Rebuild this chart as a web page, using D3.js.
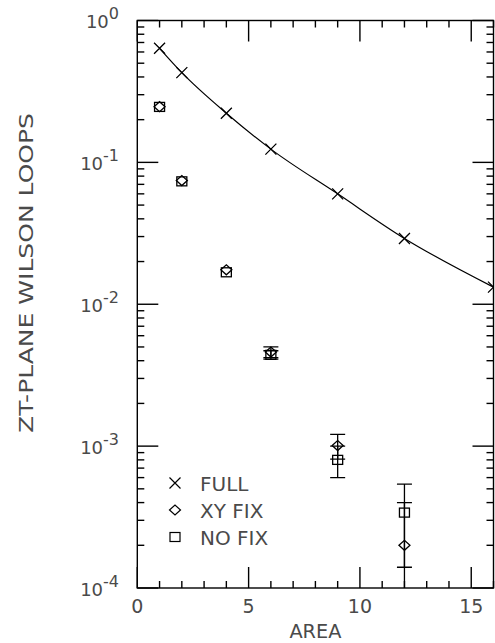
<!DOCTYPE html>
<html>
<head>
<meta charset="utf-8">
<script src="https://cdn.jsdelivr.net/npm/d3@7"></script>
<style>
  body { margin: 0; background: #fff; }
  svg { display: block; }
  text { font-family: "DejaVu Sans", sans-serif; fill: #4a4a4a; }
</style>
</head>
<body>
<div id="chart"></div>
<script>
// data
var fullArea = [1, 2, 4, 6, 9, 12, 16];
var fullVals = [0.637, 0.429, 0.222, 0.124, 0.060, 0.0291, 0.0132];

var fixArea = [1, 2, 4, 6, 9, 12];
var xyVals = [0.247, 0.0745, 0.0175, 0.0046, 0.00101, 0.0002];
var xyErr = [0, 0, 0, 0.0004, 0.0002, 0.0002];
var noVals = [0.246, 0.0735, 0.0168, 0.0044, 0.0008, 0.00034];
var noErr = [0, 0, 0, 0.0003, 0.0002, 0.0002];

var xTickLabels = [0, 5, 10, 15];
var yExponents = [0, -1, -2, -3, -4];
var legendNames = ['FULL', 'XY FIX', 'NO FIX'];

var W = 495, H = 643;
var pLeft = 137.3, pRight = 493.5, pTop = 20.5, pBottom = 588;

var svg = d3.select('#chart').append('svg').attr('width', W).attr('height', H);

var x = d3.scaleLinear().domain([0, 16]).range([pLeft, pRight]);
var y = d3.scaleLog().domain([1e-4, 1]).range([pBottom, pTop]);

svg.append('clipPath').attr('id', 'plot')
  .append('rect').attr('x', pLeft).attr('y', pTop)
  .attr('width', pRight - pLeft).attr('height', pBottom - pTop);

// ticks, pointing inward on all four sides
var ink = svg.append('g').attr('stroke', '#000').attr('stroke-width', 1.4);
d3.range(0, 17).forEach(function(v) {
  var len = v % 5 === 0 ? 21 : 7;
  ink.append('line').attr('x1', x(v)).attr('x2', x(v)).attr('y1', pBottom).attr('y2', pBottom - len);
  ink.append('line').attr('x1', x(v)).attr('x2', x(v)).attr('y1', pTop).attr('y2', pTop + len);
});
yExponents.forEach(function(e) {
  var d, v;
  ink.append('line').attr('x1', pLeft).attr('x2', pLeft + 21).attr('y1', y(Math.pow(10, e))).attr('y2', y(Math.pow(10, e)));
  ink.append('line').attr('x1', pRight).attr('x2', pRight - 21).attr('y1', y(Math.pow(10, e))).attr('y2', y(Math.pow(10, e)));
  if (e === 0) return;
  for (d = 2; d <= 9; d++) {
    v = d * Math.pow(10, e);
    ink.append('line').attr('x1', pLeft).attr('x2', pLeft + 7).attr('y1', y(v)).attr('y2', y(v));
    ink.append('line').attr('x1', pRight).attr('x2', pRight - 7).attr('y1', y(v)).attr('y2', y(v));
  }
});
ink.append('rect').attr('x', pLeft).attr('y', pTop)
  .attr('width', pRight - pLeft).attr('height', pBottom - pTop).attr('fill', 'none');

// tick labels
svg.selectAll('.xl').data(xTickLabels).enter().append('text')
  .attr('x', function(d) { return x(d); }).attr('y', 613)
  .attr('text-anchor', 'middle').style('font-size', '19px')
  .text(function(d) { return d; });

yExponents.forEach(function(e) {
  var t = svg.append('text').attr('x', 119).attr('y', y(Math.pow(10, e)) + 7.5)
    .attr('text-anchor', 'end').style('font-size', '18px');
  t.append('tspan').text('10');
  t.append('tspan').attr('dy', -9).style('font-size', '16px').text(e);
});

// axis titles
svg.append('text').attr('x', (pLeft + pRight) / 2).attr('y', 638)
  .attr('text-anchor', 'middle').attr('textLength', 52).attr('lengthAdjust', 'spacingAndGlyphs')
  .style('font-size', '19px').text('AREA');
svg.append('text').attr('transform', 'translate(33,273) rotate(-90)')
  .attr('text-anchor', 'middle').attr('textLength', 320).attr('lengthAdjust', 'spacingAndGlyphs')
  .style('font-size', '20px').text('ZT-PLANE WILSON LOOPS');

// symbols
function cross(g, cx, cy) {
  g.append('path').attr('d', 'M' + (cx - 5.5) + ',' + (cy - 5.5) + 'L' + (cx + 5.5) + ',' + (cy + 5.5) +
    'M' + (cx - 5.5) + ',' + (cy + 5.5) + 'L' + (cx + 5.5) + ',' + (cy - 5.5));
}
function diamond(g, cx, cy) {
  g.append('path').attr('d', 'M' + (cx - 5.5) + ',' + cy + 'L' + cx + ',' + (cy - 5) + 'L' + (cx + 5.5) + ',' + cy +
    'L' + cx + ',' + (cy + 5) + 'Z');
}
function square(g, cx, cy) {
  g.append('rect').attr('x', cx - 5).attr('y', cy - 4.5).attr('width', 10).attr('height', 9);
}
function errorBar(g, cx, v, e) {
  var hi = y(v + e), lo = v - e > 0 ? y(v - e) : pBottom;
  g.append('line').attr('x1', cx).attr('x2', cx).attr('y1', hi).attr('y2', lo);
  g.append('line').attr('x1', cx - 7.5).attr('x2', cx + 7.5).attr('y1', hi).attr('y2', hi);
  if (v - e > 0) g.append('line').attr('x1', cx - 7.5).attr('x2', cx + 7.5).attr('y1', lo).attr('y2', lo);
}

var marks = svg.append('g').attr('clip-path', 'url(#plot)')
  .attr('stroke', '#000').attr('stroke-width', 1.3).attr('fill', 'none');

var line = d3.line()
  .x(function(d, i) { return x(fullArea[i]); })
  .y(function(d) { return y(d); })
  .curve(d3.curveMonotoneX);
marks.append('path').attr('d', line(fullVals)).attr('stroke-width', 1.2);
fullVals.forEach(function(v, i) { cross(marks, x(fullArea[i]), y(v)); });

fixArea.forEach(function(a, i) {
  if (xyErr[i] > 0) errorBar(marks, x(a), xyVals[i], xyErr[i]);
  if (noErr[i] > 0) errorBar(marks, x(a), noVals[i], noErr[i]);
  diamond(marks, x(a), y(xyVals[i]));
  square(marks, x(a), y(noVals[i]));
});

// legend
var leg = svg.append('g').attr('stroke', '#000').attr('stroke-width', 1.2).attr('fill', 'none');
var legY = [483, 510, 537];
cross(leg, 175, legY[0]);
diamond(leg, 175, legY[1]);
square(leg, 175, legY[2]);
legendNames.forEach(function(n, i) {
  svg.append('text').attr('x', 200).attr('y', legY[i] + 7.5).style('font-size', '20px').text(n);
});
</script>
</body>
</html>
